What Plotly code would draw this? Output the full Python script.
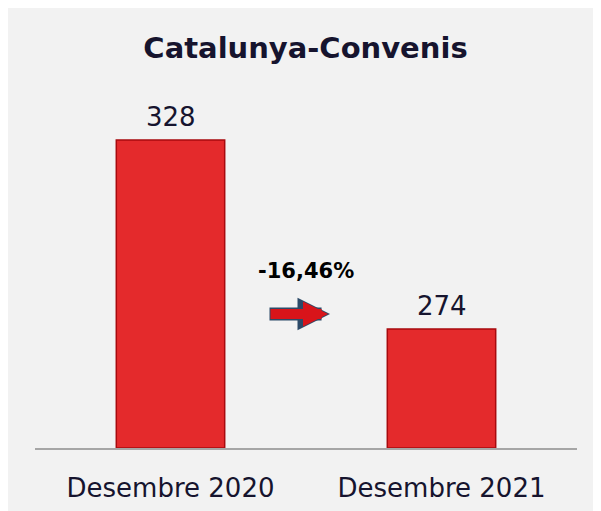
import plotly.graph_objects as go

categories = ["Desembre 2020", "Desembre 2021"]
values = [328, 274]
change_label = "-16,46%"
title = "Catalunya-Convenis"

text_color = "#16142e"
bar_color = "#e42a2c"
bar_edge = "#a80a0e"

W, H = 601, 511
m_l, m_r, m_t, m_b = 27, 32, 90, 71
y_min, y_max = 240, 340
plot_w = W - m_l - m_r
plot_h = H - m_t - m_b


def px_x(x):
    return (x - m_l) / plot_w


def px_y(y):
    return 1 - (y - m_t) / plot_h


fig = go.Figure()
fig.add_trace(go.Bar(
    x=categories,
    y=[v - y_min for v in values],
    base=y_min,
    marker=dict(color=bar_color, line=dict(color=bar_edge, width=1.5)),
    width=0.4,
    hoverinfo="skip",
))

# value labels above the bars
annotations = [
    dict(x=c, y=v, xref="x", yref="y", text=str(v), showarrow=False,
         yanchor="bottom", yshift=6, font=dict(size=26, color=text_color))
    for c, v in zip(categories, values)
]

annotations += [
    dict(text="<b>" + change_label + "</b>", xref="paper", yref="paper",
         x=px_x(298), y=px_y(263), showarrow=False, font=dict(size=21, color="black")),
    # arrow outline + fill
    dict(text="", xref="paper", yref="paper",
         x=px_x(322), y=px_y(306), ax=-62, ay=0, showarrow=True, arrowhead=2,
         arrowsize=0.5, arrowwidth=13, arrowcolor="#2c4a68"),
    dict(text="", xref="paper", yref="paper",
         x=px_x(320), y=px_y(306), ax=-59, ay=0, showarrow=True, arrowhead=2,
         arrowsize=0.5, arrowwidth=10, arrowcolor="#d8141a"),
]

fig.update_layout(
    width=W, height=H,
    margin=dict(l=m_l, r=m_r, t=m_t, b=m_b),
    paper_bgcolor="#f2f2f2",
    plot_bgcolor="#f2f2f2",
    font=dict(family="DejaVu Sans, Verdana, sans-serif", color=text_color),
    title=dict(text="<b>" + title + "</b>", x=297.5 / W, xanchor="center",
               y=1 - 40 / H, yanchor="middle", font=dict(size=29, color=text_color)),
    showlegend=False,
    xaxis=dict(showgrid=False, showline=True, linecolor="#a6a6a6", linewidth=2,
               ticks="", ticklabelstandoff=16, tickfont=dict(size=26, color=text_color)),
    yaxis=dict(range=[y_min, y_max], visible=False),
    annotations=annotations,
)

fig.write_html("out.html")
